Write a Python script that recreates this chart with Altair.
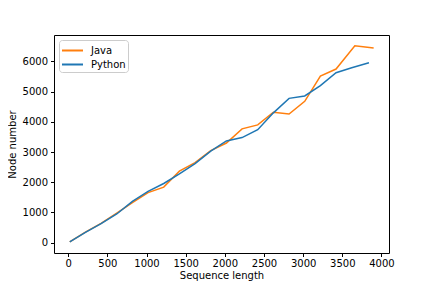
import altair as alt
import pandas as pd

java_x = [20, 220, 420, 620, 820, 1020, 1220, 1420, 1620, 1820, 2020, 2220, 2420, 2620, 2820, 3020, 3220, 3420, 3660, 3900]
java_y = [30, 350, 640, 980, 1330, 1660, 1840, 2370, 2650, 3050, 3300, 3770, 3900, 4320, 4260, 4680, 5520, 5750, 6520, 6450]
python_x = [20, 220, 420, 620, 820, 1020, 1220, 1420, 1620, 1820, 2020, 2220, 2420, 2620, 2820, 3020, 3220, 3420, 3620, 3840]
python_y = [30, 340, 630, 950, 1370, 1700, 1960, 2280, 2620, 3030, 3370, 3480, 3740, 4300, 4780, 4860, 5200, 5630, 5790, 5960]
series = ["Java", "Python"]
colors = ["#ff7f0e", "#1f77b4"]

rows = []
for x, y in zip(java_x, java_y):
    rows.append({"len": x, "nodes": y, "lang": "Java"})
for x, y in zip(python_x, python_y):
    rows.append({"len": x, "nodes": y, "lang": "Python"})
df = pd.DataFrame(rows)

FONT = "DejaVu Sans"

chart = alt.Chart(df).mark_line(strokeWidth=1.5).encode(
    x=alt.X("len:Q", title="Sequence length",
            scale=alt.Scale(domain=[-181, 4096], nice=False, zero=False),
            axis=alt.Axis(values=[0, 500, 1000, 1500, 2000, 2500, 3000, 3500, 4000],
                          format="d",
                          grid=False, tickSize=3.5, labelPadding=2, titlePadding=2)),
    y=alt.Y("nodes:Q", title="Node number",
            scale=alt.Scale(domain=[-341, 6877], nice=False, zero=False),
            axis=alt.Axis(values=[0, 1000, 2000, 3000, 4000, 5000, 6000],
                          format="d",
                          grid=False, tickSize=3.5, labelPadding=3, titlePadding=5)),
    color=alt.Color("lang:N", title=None,
                    scale=alt.Scale(domain=series, range=colors),
                    legend=alt.Legend(orient="none", legendX=5, legendY=5,
                                      symbolType="M-1.4,0L1.4,0", symbolStrokeWidth=2,
                                      symbolSize=225, symbolOffset=3,
                                      labelFontSize=10,
                                      labelFont=FONT, labelColor="#000",
                                      fillColor="white", strokeColor="#cccccc",
                                      cornerRadius=3, padding=2, rowPadding=0,
                                      labelOffset=10, labelLimit=200)),
    order=alt.Order("len:Q"),
).properties(
    width=335, height=218,
    autosize=alt.AutoSizeParams(type="none"),
    padding={"left": 46, "top": 27, "right": 35, "bottom": 35},
).configure_view(
    stroke="#000", strokeWidth=1
).configure_axis(
    labelFont=FONT, titleFont=FONT, labelFontSize=10, titleFontSize=10,
    labelColor="#000", titleColor="#000", titleFontWeight="normal",
    domainColor="#000", tickColor="#000", domain=False,
)

chart.save("out.html", embed_options={"renderer": "svg", "actions": False})
